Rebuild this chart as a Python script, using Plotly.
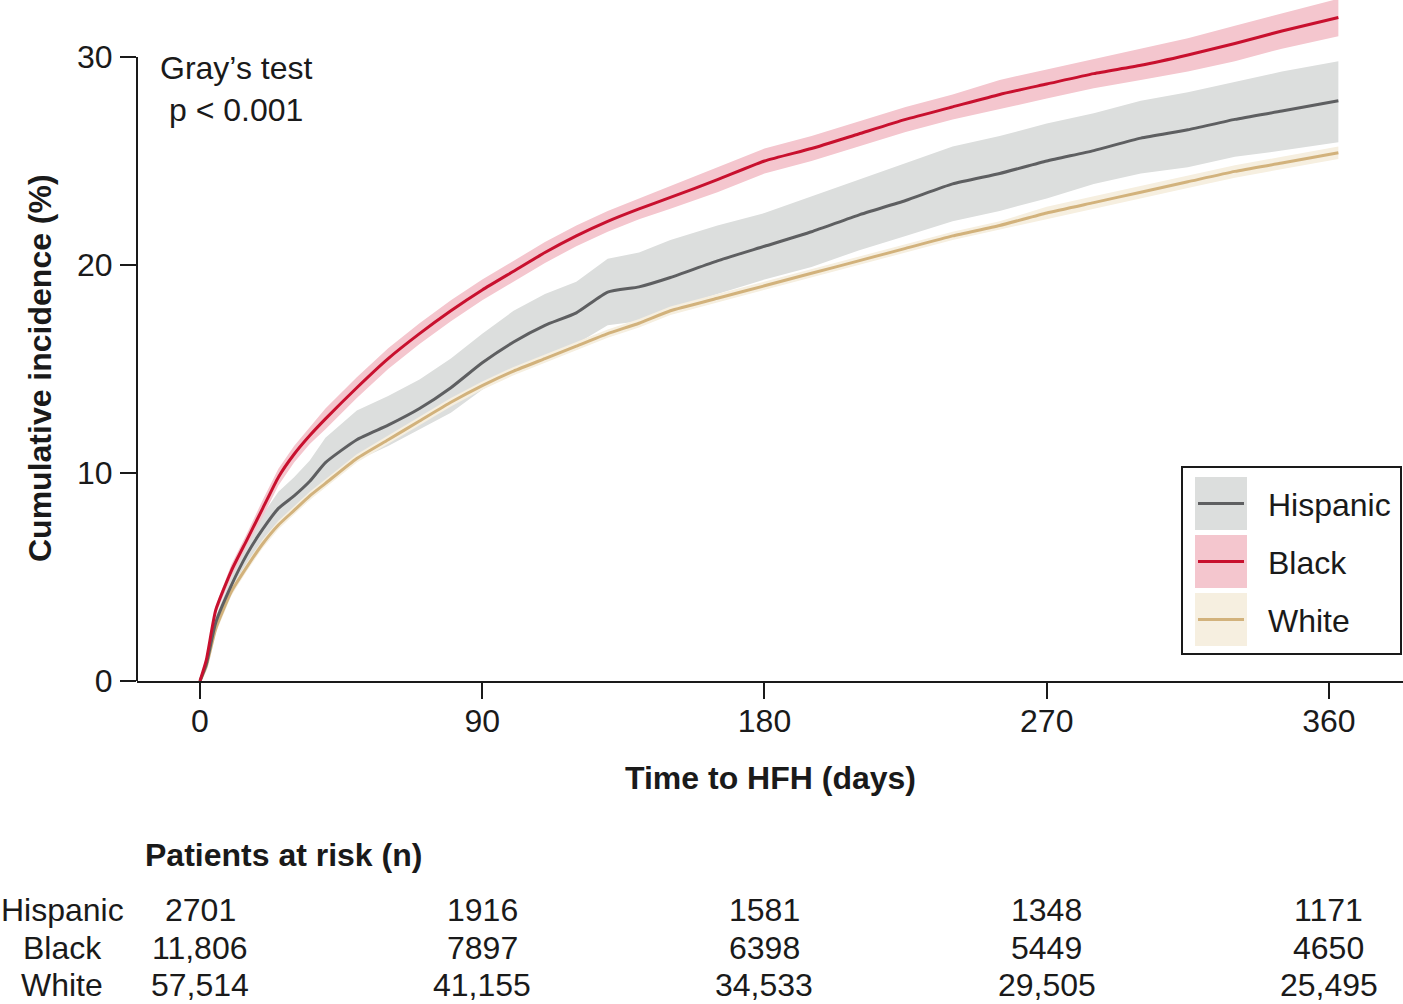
import plotly.graph_objects as go

# ---------------- data ----------------
days = [0, 2, 5, 10, 15, 20, 25, 30, 35, 40, 50, 60, 70, 80, 90, 100, 110, 120, 130, 140, 150,
        165, 180, 195, 210, 225, 240, 255, 270, 285, 300, 315, 330, 345, 363]

black = [0, 1.0, 3.4, 5.3, 6.8, 8.3, 9.8, 10.9, 11.8, 12.6, 14.1, 15.5, 16.7, 17.8, 18.8, 19.7, 20.6, 21.4, 22.1, 22.7, 23.25,
         24.1, 25.0, 25.6, 26.3, 27.0, 27.6, 28.2, 28.7, 29.2, 29.6, 30.1, 30.65, 31.25, 31.9]
black_lo = [0, 0.9, 3.2, 5.0, 6.5, 7.9, 9.4, 10.5, 11.4, 12.1, 13.6, 15.0, 16.2, 17.3, 18.3, 19.2, 20.1, 20.9, 21.6, 22.2, 22.7,
            23.5, 24.4, 25.0, 25.7, 26.4, 27.0, 27.5, 28.0, 28.5, 28.9, 29.3, 29.8, 30.4, 31.0]
black_hi = [0, 1.1, 3.6, 5.6, 7.1, 8.7, 10.2, 11.3, 12.2, 13.1, 14.6, 16.0, 17.2, 18.3, 19.3, 20.2, 21.1, 21.9, 22.6, 23.2, 23.8,
            24.7, 25.6, 26.2, 26.9, 27.6, 28.2, 28.9, 29.4, 29.9, 30.4, 30.9, 31.5, 32.1, 32.8]

hispanic = [0, 0.8, 2.8, 4.6, 6.1, 7.3, 8.3, 8.9, 9.6, 10.5, 11.6, 12.3, 13.1, 14.1, 15.3, 16.3, 17.1, 17.7, 18.7, 18.95, 19.4,
            20.2, 20.9, 21.6, 22.4, 23.1, 23.9, 24.4, 25.0, 25.5, 26.1, 26.5, 27.0, 27.4, 27.9]
hispanic_lo = [0, 0.6, 2.5, 4.2, 5.5, 6.6, 7.5, 8.1, 8.7, 9.6, 10.6, 11.3, 12.1, 12.9, 14.0, 14.9, 15.6, 16.2, 17.1, 17.3, 17.9,
               18.6, 19.3, 19.9, 20.7, 21.4, 22.1, 22.6, 23.2, 23.9, 24.4, 24.7, 25.2, 25.5, 25.9]
hispanic_hi = [0, 1.0, 3.1, 5.0, 6.7, 8.0, 9.1, 9.8, 10.6, 11.7, 13.0, 13.7, 14.5, 15.5, 16.7, 17.8, 18.6, 19.2, 20.3, 20.6, 21.2,
               21.9, 22.5, 23.3, 24.1, 24.9, 25.7, 26.2, 26.8, 27.3, 27.9, 28.3, 28.8, 29.3, 29.8]

white = [0, 0.7, 2.5, 4.3, 5.5, 6.6, 7.5, 8.2, 8.9, 9.5, 10.7, 11.6, 12.5, 13.4, 14.2, 14.9, 15.5, 16.1, 16.7, 17.2, 17.8,
         18.4, 19.0, 19.6, 20.2, 20.8, 21.4, 21.9, 22.5, 23.0, 23.5, 24.0, 24.5, 24.9, 25.4]
white_lo = [0, 0.6, 2.3, 4.1, 5.3, 6.4, 7.3, 8.0, 8.7, 9.3, 10.5, 11.4, 12.3, 13.2, 14.0, 14.7, 15.3, 15.9, 16.5, 17.0, 17.6,
            18.2, 18.8, 19.4, 20.0, 20.6, 21.2, 21.7, 22.2, 22.7, 23.2, 23.7, 24.2, 24.6, 25.1]
white_hi = [0, 0.8, 2.7, 4.5, 5.7, 6.8, 7.7, 8.4, 9.1, 9.7, 10.9, 11.8, 12.7, 13.6, 14.4, 15.1, 15.7, 16.3, 16.9, 17.4, 18.0,
            18.6, 19.2, 19.8, 20.4, 21.0, 21.6, 22.1, 22.8, 23.3, 23.8, 24.3, 24.8, 25.2, 25.7]

groups = ["Hispanic", "Black", "White"]
tick_days = [0, 90, 180, 270, 360]
at_risk = {
    "Hispanic": ["2701", "1916", "1581", "1348", "1171"],
    "Black": ["11,806", "7897", "6398", "5449", "4650"],
    "White": ["57,514", "41,155", "34,533", "29,505", "25,495"],
}

# ---------------- style ----------------
FONT = "Liberation Sans, Arial, sans-serif"
FS = 32
TXT = "#1a1a1a"
line_col = {"Hispanic": "#5e5f61", "Black": "#c8102e", "White": "#d2b27c"}
band_col = {"Hispanic": "#dcdedd", "Black": "#f4c6ce", "White": "#f6efe0"}
series = {
    "Hispanic": (hispanic, hispanic_lo, hispanic_hi),
    "Black": (black, black_lo, black_hi),
    "White": (white, white_lo, white_hi),
}

# layout pixel geometry of the plot area
L, R, T, B = 137, 1403, 0, 681

def px_x(p):   # pixel -> day (data x)
    return (p - 200) / 3.136

def px_y(p):   # pixel -> percent (data y)
    return (681 - p) / 20.8

def pap_x(p):  # pixel -> paper x
    return (p - L) / (R - L)

def pap_y(p):  # pixel -> paper y
    return (B - p) / (B - T)

fig = go.Figure()

for g in groups:
    y, lo, hi = series[g]
    fig.add_trace(go.Scatter(x=days + days[::-1], y=hi + lo[::-1], fill="toself",
                             fillcolor=band_col[g], line=dict(width=0), mode="lines",
                             hoverinfo="skip", showlegend=False))
for g in ["White", "Hispanic", "Black"]:
    y, lo, hi = series[g]
    fig.add_trace(go.Scatter(x=days, y=y, mode="lines", name=g,
                             line=dict(color=line_col[g], width=3, shape="spline", smoothing=0.5),
                             showlegend=False))

shapes = []
shapes.append(dict(type="line", xref="paper", yref="y", x0=0, x1=0, y0=0, y1=30,
                   line=dict(color=TXT, width=2)))
shapes.append(dict(type="rect", xref="paper", yref="paper", x0=pap_x(1182), x1=pap_x(1401),
                   y0=pap_y(654), y1=pap_y(467), line=dict(color=TXT, width=2),
                   fillcolor="white", layer="above"))
annotations = []
leg_rows = [("Hispanic", 477, 530), ("Black", 535, 588), ("White", 593, 646)]
for g, t, b in leg_rows:
    shapes.append(dict(type="rect", xref="paper", yref="paper", x0=pap_x(1195), x1=pap_x(1247),
                       y0=pap_y(b), y1=pap_y(t), line=dict(width=0), fillcolor=band_col[g], layer="above"))
    mid = (t + b) / 2
    shapes.append(dict(type="line", xref="paper", yref="paper", x0=pap_x(1198), x1=pap_x(1244),
                       y0=pap_y(mid), y1=pap_y(mid), line=dict(color=line_col[g], width=3), layer="above"))
    annotations.append(dict(x=pap_x(1266), y=pap_y(mid + 1), xref="paper", yref="paper", text=g,
                            showarrow=False, xanchor="left", yanchor="middle",
                            font=dict(family=FONT, size=FS, color=TXT)))

annotations.append(dict(x=pap_x(236), y=pap_y(89), xref="paper", yref="paper",
                        text="Gray’s test<br>p < 0.001", showarrow=False, align="center",
                        xanchor="center", yanchor="middle",
                        font=dict(family=FONT, size=FS, color=TXT)))
annotations.append(dict(x=pap_x(40), y=pap_y(368), xref="paper", yref="paper", textangle=-90,
                        text="<b>Cumulative incidence (%)</b>", showarrow=False,
                        xanchor="center", yanchor="middle",
                        font=dict(family=FONT, size=FS, color=TXT)))
annotations.append(dict(x=pap_x(770), y=pap_y(778), xref="paper", yref="paper",
                        text="<b>Time to HFH (days)</b>", showarrow=False,
                        xanchor="center", yanchor="middle",
                        font=dict(family=FONT, size=FS, color=TXT)))
annotations.append(dict(x=pap_x(143), y=pap_y(855), xref="paper", yref="paper",
                        text="<b>Patients at risk (n)</b>", showarrow=False,
                        xanchor="left", yanchor="middle",
                        font=dict(family=FONT, size=FS, color=TXT)))
row_y = {"Hispanic": 910, "Black": 948, "White": 985}
for g in groups:
    annotations.append(dict(x=pap_x(62), y=pap_y(row_y[g]), xref="paper", yref="paper", text=g,
                            showarrow=False, xanchor="center", yanchor="middle",
                            font=dict(family=FONT, size=FS, color=TXT)))
    for d, v in zip(tick_days, at_risk[g]):
        annotations.append(dict(x=d, y=pap_y(row_y[g]), xref="x", yref="paper", text=v,
                                showarrow=False, xanchor="center", yanchor="middle",
                                font=dict(family=FONT, size=FS, color=TXT)))

fig.update_layout(
    width=1403, height=1004,
    margin=dict(l=L, r=1403 - R, t=T, b=1004 - B),
    paper_bgcolor="white", plot_bgcolor="white",
    font=dict(family=FONT, size=FS, color=TXT),
    showlegend=False,
    shapes=shapes, annotations=annotations,
    xaxis=dict(range=[px_x(L), px_x(R)], tickvals=tick_days, ticks="outside",
               ticklen=16, tickwidth=2, tickcolor=TXT, showline=True,
               linecolor=TXT, linewidth=2, showgrid=False, zeroline=False,
               ticklabelstandoff=-5, tickfont=dict(family=FONT, size=FS, color=TXT)),
    yaxis=dict(range=[0, px_y(T)], tickvals=[0, 10, 20, 30], ticks="outside",
               ticklen=16, tickwidth=2, tickcolor=TXT, showline=False,
               showgrid=False, zeroline=False, ticklabelstandoff=1,
               tickfont=dict(family=FONT, size=FS, color=TXT)),
)

fig.write_html("out.html")
